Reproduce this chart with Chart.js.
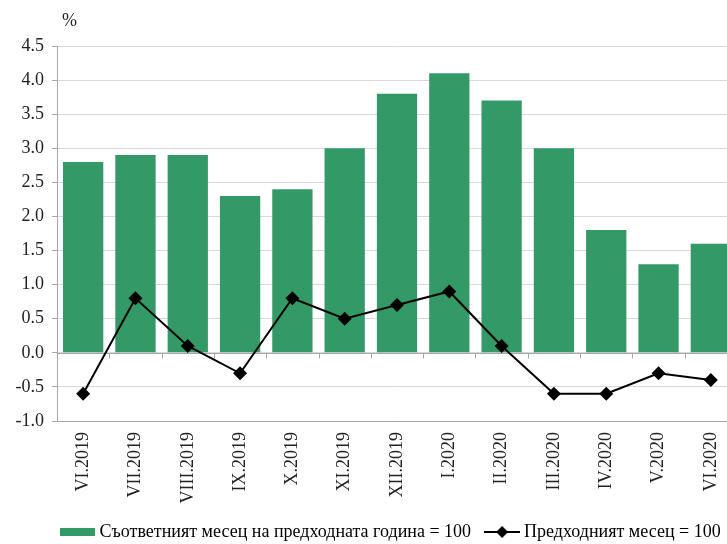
<!DOCTYPE html>
<html>
<head>
<meta charset="utf-8">
<script src="https://cdn.jsdelivr.net/npm/chart.js@4"></script>
<style>
  html, body { margin: 0; padding: 0; background: #fff; overflow: hidden; }
  #wrap { width: 727px; height: 544px; overflow: hidden; }
</style>
</head>
<body>
<div id="wrap"><canvas id="inflChart" width="780" height="544"></canvas></div>
<script>
const months = [
  "VI.2019", "VII.2019", "VIII.2019", "IX.2019", "X.2019", "XI.2019",
  "XII.2019", "I.2020", "II.2020", "III.2020", "IV.2020", "V.2020", "VI.2020",
];
const sameMonthPrevYear = [2.8, 2.9, 2.9, 2.3, 2.4, 3.0, 3.8, 4.1, 3.7, 3.0, 1.8, 1.3, 1.6];
const prevMonth = [-0.6, 0.8, 0.1, -0.3, 0.8, 0.5, 0.7, 0.9, 0.1, -0.6, -0.6, -0.3, -0.4];

const barLabel = "Съответният месец на предходната година = 100";
const lineLabel = "Предходният месец = 100";

const green = "#339966";
const font = { family: "'Liberation Serif', 'Times New Roman', serif", size: 18 };

// legend markers
function makeIcon(w, h, draw) {
  const cv = document.createElement("canvas");
  cv.width = w;
  cv.height = h;
  draw(cv.getContext("2d"));
  return cv;
}
const barIcon = makeIcon(35, 8, (c) => {
  c.fillStyle = green;
  c.fillRect(0, 0, 35, 8);
});
const lineIcon = makeIcon(36, 14, (c) => {
  c.strokeStyle = "#000";
  c.lineWidth = 2;
  c.beginPath();
  c.moveTo(0, 7);
  c.lineTo(36, 7);
  c.stroke();
  c.fillStyle = "#000";
  c.beginPath();
  c.moveTo(18, 1);
  c.lineTo(24, 7);
  c.lineTo(18, 13);
  c.lineTo(12, 7);
  c.closePath();
  c.fill();
});

const legendMidY = 532;   // centre line of the legend text

// "%" above the axis, zero line and its small category ticks, legend placement
const extras = {
  id: "extras",
  afterLayout(chart) {
    const lg = chart.legend;
    const pad = lg.options.labels.padding;
    const startX = (lg.left + pad + lg.right - lg.lineWidths[0]) / 2;
    const shiftX = 64.5 - startX;
    lg.left += shiftX;
    lg.right += shiftX;
    const shiftY = legendMidY - 9 - pad - lg.top;
    lg.top += shiftY;
    lg.bottom += shiftY;
  },
  beforeDatasetsDraw(chart) {
    const { ctx, chartArea, scales } = chart;
    const x = scales.x, y = scales.y;
    const y0 = Math.round(y.getPixelForValue(0)) + 0.5;
    ctx.save();
    ctx.strokeStyle = "#a6a6a6";
    ctx.lineWidth = 1;
    ctx.beginPath();
    ctx.moveTo(chartArea.left, y0);
    ctx.lineTo(chartArea.right, y0);
    for (let i = 1; i < months.length; i++) {
      const xb = Math.round((x.getPixelForValue(i - 1) + x.getPixelForValue(i)) / 2) + 0.5;
      ctx.moveTo(xb, y0);
      ctx.lineTo(xb, y0 + 5);
    }
    ctx.stroke();
    ctx.restore();
  },
  afterDraw(chart) {
    const { ctx, chartArea } = chart;
    ctx.save();
    ctx.fillStyle = "#222";
    ctx.font = "18px " + font.family;
    ctx.textBaseline = "middle";
    ctx.fillText("%", chartArea.left + 5, chartArea.top - 25);
    ctx.restore();
  },
};

const ctx = document.getElementById("inflChart").getContext("2d");

new Chart(ctx, {
  data: {
    labels: months,
    datasets: [
      {
        type: "bar",
        label: barLabel,
        data: sameMonthPrevYear,
        backgroundColor: green,
        borderWidth: 0,
        categoryPercentage: 1,
        barPercentage: 0.77,
        order: 2,
      },
      {
        type: "line",
        label: lineLabel,
        data: prevMonth,
        borderColor: "#000",
        borderWidth: 2,
        backgroundColor: "#000",
        pointStyle: "rectRot",
        pointRadius: 7,
        pointBackgroundColor: "#000",
        pointBorderWidth: 0,
        tension: 0,
        fill: false,
        order: 1,
      },
    ],
  },
  options: {
    responsive: false,
    animation: false,
    layout: { padding: { top: 46, right: 43, left: 0, bottom: -7 } },
    plugins: {
      tooltip: { enabled: false },
      legend: {
        position: "bottom",
        labels: {
          font: font,
          color: "#222",
          usePointStyle: true,
          pointStyleWidth: 26,
          boxHeight: 10,
          padding: 18,
          generateLabels(chart) {
            return [
              { text: barLabel, fillStyle: green, strokeStyle: green, lineWidth: 0, pointStyle: barIcon, datasetIndex: 0 },
              { text: lineLabel, fillStyle: "#000", strokeStyle: "#000", lineWidth: 0, pointStyle: lineIcon, datasetIndex: 1 },
            ];
          },
        },
      },
    },
    scales: {
      x: {
        grid: { display: false, drawTicks: false, tickLength: 0 },
        border: { display: true, color: "#a6a6a6" },
        ticks: {
          font: font,
          color: "#222",
          minRotation: 90,
          maxRotation: 90,
          padding: 11,
          autoSkip: false,
        },
        afterFit(scale) { scale.height = 84; },
      },
      y: {
        min: -1.0,
        max: 4.5,
        ticks: {
          stepSize: 0.5,
          font: font,
          color: "#222",
          padding: 8,
          callback: (v) => v.toFixed(1),
        },
        grid: { color: "#d9d9d9", tickColor: "#a6a6a6", tickLength: 5 },
        border: { display: true, color: "#a6a6a6" },
        afterFit(scale) { scale.width = 57; },
      },
    },
  },
  plugins: [extras],
});
</script>
</body>
</html>
